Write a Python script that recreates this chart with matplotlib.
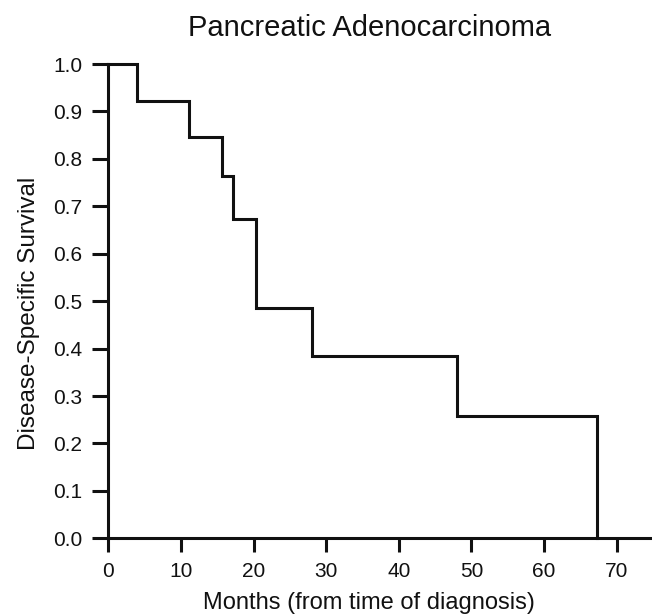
import numpy as np
import matplotlib
matplotlib.use("Agg")
import matplotlib.pyplot as plt

# Kaplan-Meier steps
months = [0, 3.9, 11.1, 15.6, 17.2, 20.4, 28.0, 48.0, 67.3]
survival = [1.0, 0.923, 0.846, 0.763, 0.673, 0.485, 0.385, 0.257, 0.0]

x_ticks = [0, 10, 20, 30, 40, 50, 60, 70]
y_ticks = [0.0, 0.1, 0.2, 0.3, 0.4, 0.5, 0.6, 0.7, 0.8, 0.9, 1.0]

plt.rcParams['font.family'] = ['Liberation Sans', 'DejaVu Sans']
ink = "#111111"

fig = plt.figure(figsize=(6.52, 6.16), dpi=100)
ax = fig.add_axes([0.1661, 0.1261, 0.831, 0.770])

ax.step(months, survival, where="post", color=ink, lw=2.2, clip_on=False,
        solid_joinstyle="miter")

ax.set_xlim(0, 74.6)
ax.set_ylim(0, 1.0)
ax.set_xticks(x_ticks)
ax.set_yticks(y_ticks)
ax.set_yticklabels([f"{v:.1f}" for v in y_ticks])

for side in ["top", "right"]:
    ax.spines[side].set_visible(False)
for side in ["left", "bottom"]:
    ax.spines[side].set_linewidth(2.2)
    ax.spines[side].set_color(ink)

ax.tick_params(axis="y", direction="out", length=11.5, width=2.2, color=ink,
               labelsize=15, pad=7, labelcolor=ink)
ax.tick_params(axis="x", direction="out", length=10, width=2.2, color=ink,
               labelsize=15, pad=7, labelcolor=ink)

fig.text(0.5675, 0.9416, "Pancreatic Adenocarcinoma", ha="center",
         va="baseline", fontsize=21, color=ink)
fig.text(0.566, 0.0114, "Months (from time of diagnosis)", ha="center",
         va="baseline", fontsize=17, color=ink)
fig.text(0.0537, 0.492, "Disease-Specific Survival", ha="center",
         va="baseline", rotation=90, rotation_mode="anchor", fontsize=17.5,
         color=ink)

fig.savefig("out.png", dpi=100)
